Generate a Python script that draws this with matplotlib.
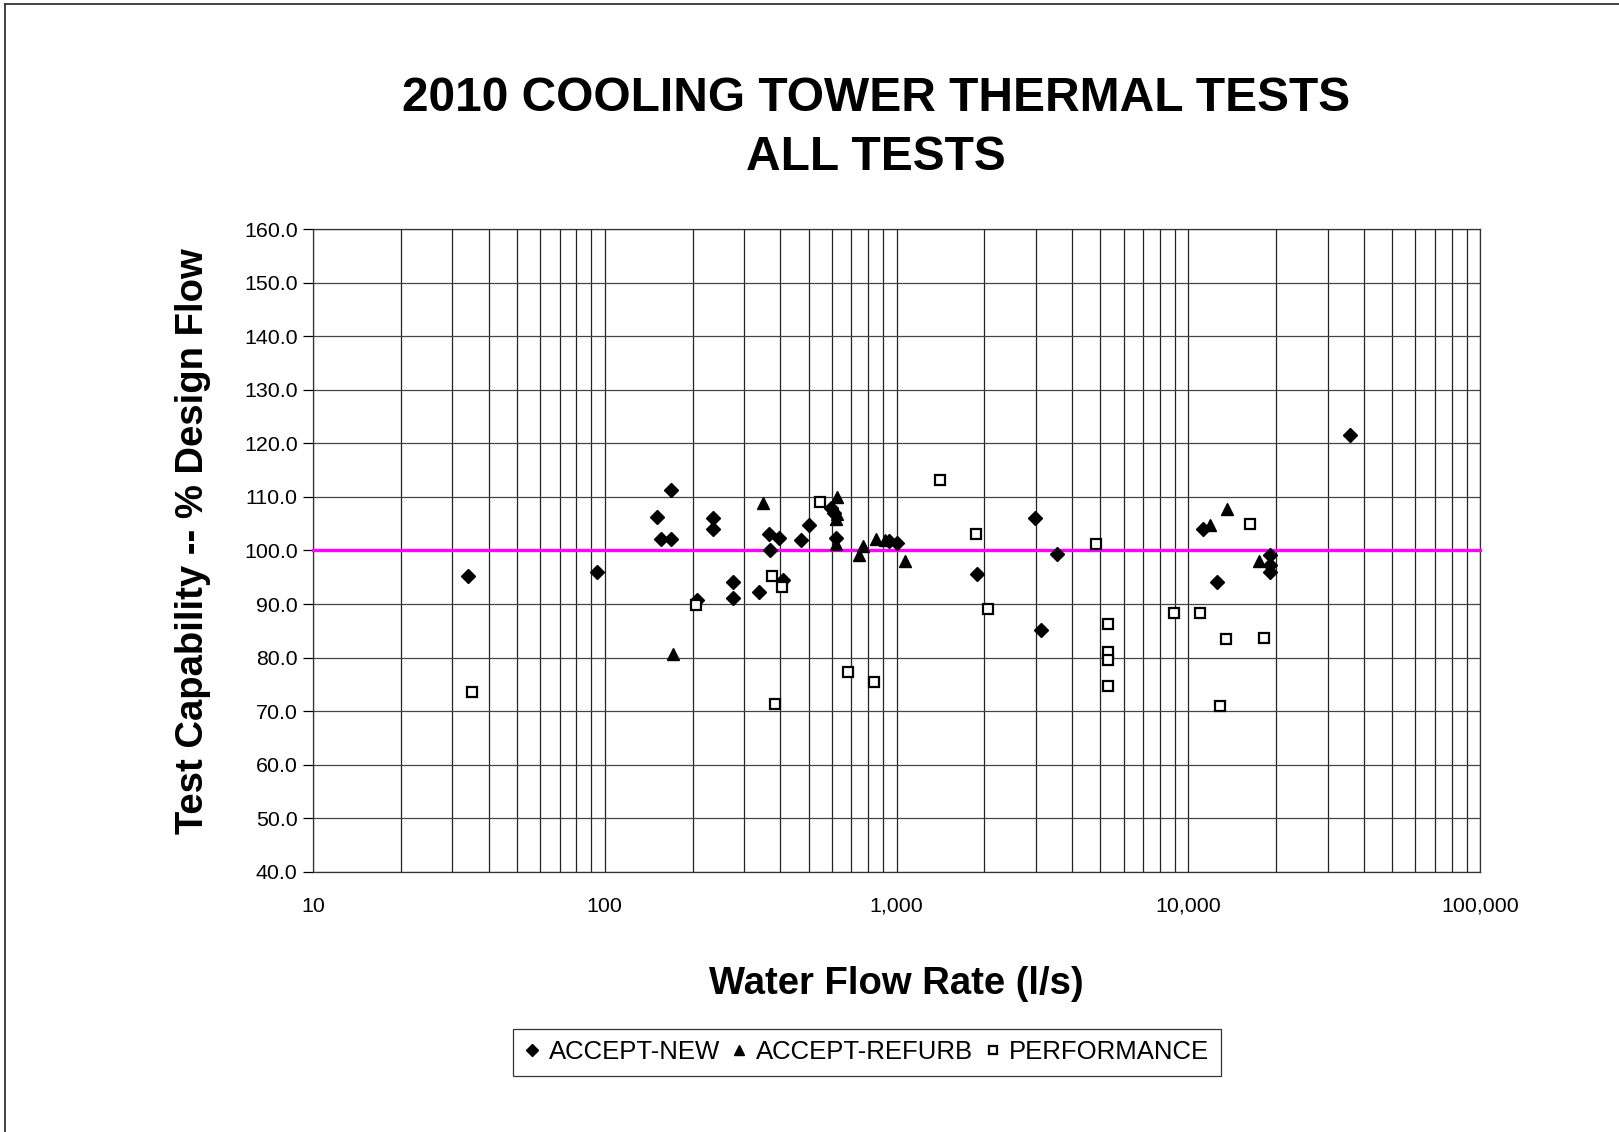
import matplotlib
matplotlib.use("Agg")
import matplotlib.pyplot as plt
from matplotlib.ticker import FixedLocator, FuncFormatter, LogLocator, NullFormatter
from matplotlib.lines import Line2D

plt.rcParams["font.family"] = ["Liberation Sans", "DejaVu Sans"]

# --- data (flow in l/s, capability in % design flow) ---
new_flow = [34, 94, 151, 156, 169, 169, 207, 235, 235, 275, 275, 338, 366, 369,
            396, 407, 469, 500, 595, 612, 620, 940, 1005, 1889, 2986, 3131, 3544,
            11220, 12560, 18980, 18980, 18980, 35700]
new_cap = [95.2, 95.9, 106.3, 102.2, 111.2, 102.2, 90.8, 106.0, 104.1, 94.1, 91.1,
           92.2, 103.0, 100.1, 102.3, 94.5, 101.9, 104.8, 108.0, 107.0, 102.3, 101.8,
           101.4, 95.6, 106.0, 85.2, 99.3, 104.1, 94.1, 99.1, 97.3, 96.0, 121.5]

refurb_flow = [171, 348, 627, 625, 620, 620, 746, 765, 852, 915, 1068,
               11830, 13580, 17450]
refurb_cap = [80.6, 108.9, 110.0, 106.8, 105.8, 101.2, 99.1, 100.9, 102.2, 101.9,
              98.0, 104.7, 107.8, 98.1]

perf_flow = [35, 205, 373, 384, 405, 545, 681, 840, 1411, 1875, 2060, 4832,
             5314, 5314, 5314, 5314, 8953, 10990, 12870, 13490, 16310, 18200]
perf_cap = [73.6, 89.9, 95.3, 71.4, 93.1, 109.1, 77.3, 75.4, 113.1, 103.1, 89.1,
            101.3, 86.2, 81.0, 79.5, 74.7, 88.4, 88.4, 71.0, 83.5, 105.0, 83.6]

design_pct = 100.0
y_ticks = [40, 50, 60, 70, 80, 90, 100, 110, 120, 130, 140, 150, 160]
x_ticks = [10, 100, 1000, 10000, 100000]

fig = plt.figure(figsize=(16.19, 11.32), dpi=100)
ax = fig.add_axes([0.1933, 0.2297, 0.7209, 0.5680])

ax.set_xscale("log")
ax.set_xlim(10, 100000)
ax.set_ylim(40, 160)

ax.plot(new_flow, new_cap, linestyle="none", marker="D", markersize=7.5,
        color="black", label="ACCEPT-NEW", zorder=4)
ax.plot(refurb_flow, refurb_cap, linestyle="none", marker="^", markersize=9,
        color="black", label="ACCEPT-REFURB", zorder=4)
ax.plot(perf_flow, perf_cap, linestyle="none", marker="s", markersize=7.5,
        markerfacecolor="white", markeredgecolor="black", markeredgewidth=1.6,
        label="PERFORMANCE", zorder=4)

ax.axhline(design_pct, color="#FF00FF", lw=2.4, zorder=3, clip_on=False)

# grid
ax.xaxis.set_major_locator(FixedLocator(x_ticks))
ax.xaxis.set_minor_locator(LogLocator(base=10, subs=range(2, 10)))
ax.xaxis.set_minor_formatter(NullFormatter())
ax.xaxis.set_major_formatter(FuncFormatter(lambda v, p: f"{v:,.0f}"))
ax.yaxis.set_major_locator(FixedLocator(y_ticks))
ax.yaxis.set_major_formatter(FuncFormatter(lambda v, p: f"{v:.1f}"))
ax.grid(True, which="both", axis="x", color="#222222", lw=0.9)
ax.grid(True, which="major", axis="y", color="#444444", lw=0.9)
ax.set_axisbelow(True)

for s in ax.spines.values():
    s.set_color("#333333")
    s.set_linewidth(0.9)

ax.tick_params(axis="x", which="both", length=0, labelsize=15.4, pad=18)
ax.tick_params(axis="y", which="major", length=7, width=0.9, labelsize=15.4, pad=4,
               direction="out")

ax.set_xlabel("Water Flow Rate (l/s)", fontsize=27.5, fontweight="bold", labelpad=36)
ax.set_ylabel("Test Capability -- % Design Flow", fontsize=27.5, fontweight="bold",
              labelpad=24)
ax.yaxis.label.set_y(0.515)

fig.text(0.541, 0.8873, "2010 COOLING TOWER THERMAL TESTS\nALL TESTS",
         ha="center", va="center", fontsize=34.5, fontweight="bold", linespacing=1.4)

leg = fig.legend(loc="center", bbox_to_anchor=(0.5355, 0.0705), ncol=3,
                 fontsize=18.5, frameon=True, fancybox=False, markerscale=0.8,
                 handlelength=0.6, handletextpad=0.35, columnspacing=0.45,
                 borderpad=0.45, borderaxespad=0)
leg.get_frame().set_edgecolor("black")
leg.get_frame().set_linewidth(0.9)

# outer border (top and left visible in the source image)
fig.add_artist(Line2D([0.003, 0.003], [0.0, 0.9965], transform=fig.transFigure,
                      color="#333333", lw=1.3))
fig.add_artist(Line2D([0.003, 1.0], [0.9965, 0.9965], transform=fig.transFigure,
                      color="#333333", lw=1.3))

fig.savefig("out.png", dpi=100)
